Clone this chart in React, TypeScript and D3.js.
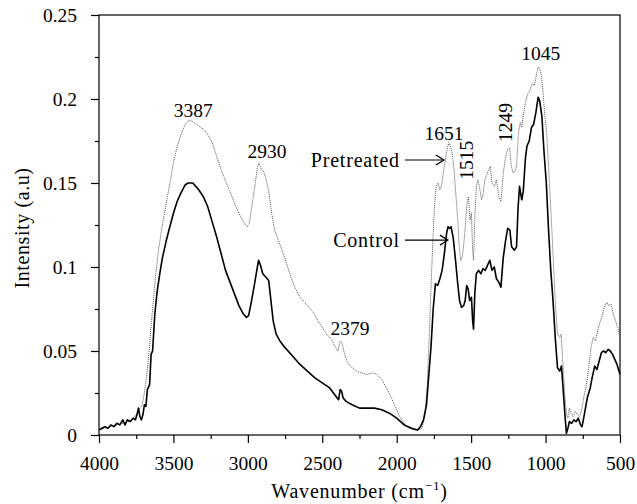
import * as d3 from "d3";
import React, { useRef, useEffect } from "react";

// FTIR spectra, wavenumber (cm-1) vs intensity (a.u)
const controlWn = [4000,3980,3960,3940,3920,3900,3880,3860,3840,3825,3810,3790,3770,3755,3745,3735,3725,3715,3705,3695,3685,3675,3660,3650,3640,3625,3610,3590,3575,3550,3530,3500,3475,3450,3420,3400,3370,3350,3330,3300,3270,3240,3210,3180,3150,3120,3090,3060,3030,3010,2995,2975,2955,2940,2928,2915,2900,2880,2860,2845,2830,2810,2785,2750,2700,2650,2600,2550,2500,2450,2400,2390,2380,2370,2360,2340,2300,2250,2200,2150,2100,2050,2000,1950,1900,1860,1840,1820,1800,1785,1770,1755,1740,1725,1710,1695,1680,1665,1655,1645,1635,1620,1605,1590,1578,1565,1550,1540,1530,1520,1510,1498,1490,1484,1475,1465,1450,1435,1420,1405,1390,1375,1360,1345,1330,1315,1300,1285,1270,1255,1240,1228,1210,1195,1185,1175,1160,1150,1135,1125,1110,1095,1080,1065,1050,1040,1025,1010,995,980,965,950,935,920,905,893,880,870,860,850,840,825,810,795,780,765,755,740,720,700,685,670,655,640,625,610,595,580,565,550,535,520,500];
const controlVal = [0.003,0.004,0.005,0.004,0.006,0.005,0.007,0.006,0.009,0.006,0.009,0.008,0.010,0.009,0.012,0.016,0.011,0.009,0.012,0.018,0.017,0.027,0.030,0.048,0.050,0.072,0.085,0.097,0.105,0.115,0.122,0.132,0.139,0.144,0.149,0.150,0.150,0.148,0.146,0.142,0.136,0.127,0.118,0.108,0.098,0.091,0.084,0.077,0.072,0.070,0.071,0.080,0.090,0.098,0.104,0.101,0.096,0.094,0.092,0.080,0.068,0.060,0.056,0.052,0.047,0.042,0.038,0.034,0.031,0.028,0.022,0.021,0.027,0.026,0.022,0.020,0.018,0.016,0.016,0.016,0.015,0.013,0.010,0.006,0.004,0.003,0.005,0.009,0.018,0.035,0.052,0.075,0.090,0.089,0.093,0.098,0.108,0.120,0.124,0.123,0.124,0.117,0.104,0.090,0.080,0.076,0.077,0.080,0.089,0.087,0.080,0.082,0.068,0.063,0.085,0.096,0.098,0.096,0.099,0.098,0.101,0.104,0.098,0.100,0.093,0.091,0.088,0.105,0.115,0.123,0.122,0.112,0.110,0.112,0.135,0.148,0.140,0.145,0.165,0.172,0.175,0.183,0.185,0.192,0.201,0.199,0.190,0.168,0.150,0.122,0.098,0.080,0.058,0.040,0.038,0.041,0.025,0.012,0.001,0.004,0.008,0.007,0.009,0.008,0.010,0.006,0.005,0.012,0.022,0.028,0.035,0.041,0.039,0.044,0.049,0.050,0.049,0.051,0.050,0.048,0.045,0.042,0.036];

const pretreatedWn = [4000,3960,3920,3880,3840,3800,3770,3750,3730,3710,3695,3680,3665,3650,3635,3620,3600,3580,3560,3540,3520,3500,3480,3460,3440,3420,3400,3380,3360,3330,3300,3270,3240,3210,3180,3150,3120,3090,3060,3030,3005,2990,2970,2950,2935,2925,2910,2895,2880,2860,2840,2820,2800,2770,2740,2710,2680,2650,2620,2590,2560,2530,2500,2470,2440,2410,2395,2380,2368,2350,2330,2300,2270,2240,2200,2160,2130,2100,2070,2040,2010,1980,1950,1920,1880,1850,1830,1810,1795,1780,1768,1755,1745,1735,1722,1710,1700,1688,1675,1662,1650,1640,1628,1615,1600,1590,1580,1570,1560,1548,1538,1528,1518,1508,1498,1490,1484,1475,1465,1455,1445,1430,1420,1408,1395,1382,1372,1360,1345,1330,1315,1300,1285,1270,1255,1242,1230,1218,1205,1195,1182,1170,1160,1150,1135,1120,1105,1090,1075,1062,1050,1040,1030,1018,1005,993,980,965,950,935,920,905,895,885,872,860,850,840,830,815,800,785,770,755,740,725,710,695,680,665,650,635,620,605,590,575,560,545,530,515,500];
const pretreatedVal = [0.003,0.004,0.005,0.006,0.007,0.008,0.010,0.012,0.015,0.018,0.025,0.035,0.048,0.065,0.080,0.095,0.110,0.122,0.132,0.142,0.152,0.162,0.170,0.176,0.181,0.185,0.187,0.187,0.186,0.184,0.182,0.179,0.174,0.166,0.158,0.151,0.145,0.138,0.132,0.127,0.124,0.126,0.138,0.150,0.160,0.162,0.158,0.157,0.153,0.145,0.132,0.122,0.117,0.110,0.102,0.094,0.087,0.082,0.079,0.076,0.073,0.068,0.064,0.060,0.057,0.052,0.050,0.056,0.055,0.048,0.043,0.040,0.038,0.037,0.036,0.037,0.036,0.033,0.028,0.023,0.017,0.011,0.007,0.004,0.003,0.003,0.004,0.012,0.030,0.062,0.092,0.120,0.138,0.148,0.150,0.146,0.148,0.155,0.163,0.170,0.174,0.172,0.168,0.158,0.140,0.128,0.112,0.104,0.106,0.115,0.125,0.138,0.142,0.128,0.132,0.110,0.104,0.130,0.148,0.152,0.148,0.140,0.143,0.152,0.155,0.158,0.160,0.150,0.148,0.152,0.142,0.139,0.155,0.165,0.170,0.171,0.160,0.156,0.157,0.160,0.180,0.186,0.183,0.190,0.198,0.203,0.205,0.209,0.208,0.214,0.219,0.218,0.215,0.205,0.190,0.180,0.160,0.135,0.108,0.080,0.060,0.058,0.060,0.045,0.025,0.013,0.010,0.016,0.013,0.011,0.014,0.012,0.011,0.016,0.024,0.030,0.040,0.052,0.058,0.056,0.062,0.067,0.071,0.076,0.079,0.077,0.078,0.072,0.068,0.064,0.058];

const xTicks = [4000, 3500, 3000, 2500, 2000, 1500, 1000, 500];
const yTicks = [0, 0.05, 0.1, 0.15, 0.2, 0.25];

// peak annotations: text, anchor wavenumber, anchor value, rotated
const peakLabels: [string, number, number, boolean][] = [
  ["3387", 3367, 0.189, false],
  ["2930", 2872, 0.165, false],
  ["2379", 2314, 0.0595, false],
  ["1651", 1683, 0.1756, false],
  ["1515", 1488, 0.152, true],
  ["1249", 1226, 0.1744, true],
  ["1045", 1032, 0.223, false],
];

// series labels: text, arrow tip wavenumber, value, arrow tail wavenumber
const seriesLabels: [string, number, number, number][] = [
  ["Pretreated", 1683, 0.1637, 1945],
  ["Control", 1656, 0.116, 1945],
];

const W = 637, H = 504;
const margin = { top: 15, right: 17, bottom: 69, left: 99 };
const FONT = "'Liberation Serif', 'Times New Roman', serif";

const App = () => {
  const ref = useRef<SVGSVGElement>(null);

  useEffect(() => {
    document.body.style.margin = "0";
    document.body.style.overflow = "hidden";

    const width = W - margin.left - margin.right;
    const height = H - margin.top - margin.bottom;
    const root = d3.select(ref.current);
    root.selectAll("*").remove();
    const svg = root.append("g").attr("transform", `translate(${margin.left},${margin.top})`);

    const x = d3.scaleLinear().domain([4000, 500]).range([0, width]);
    const y = d3.scaleLinear().domain([0, 0.25]).range([height, 0]);

    // frame
    svg.append("rect").attr("width", width).attr("height", height)
      .attr("fill", "none").attr("stroke", "#000").attr("stroke-width", 1.2);

    const minorX = xTicks.slice(0, -1).map(v => v - 250);
    const minorY = yTicks.slice(0, -1).map(v => v + 0.025);

    const styleAxis = (g: any) => {
      g.select(".domain").remove();
      g.selectAll("line").attr("stroke", "#000").attr("stroke-width", 1.2);
      g.selectAll("text").attr("font-family", FONT).attr("font-size", 19.5).attr("fill", "#000");
    };

    svg.append("g").attr("transform", `translate(0,${height})`)
      .call(d3.axisBottom(x).tickValues(xTicks).tickSize(8).tickPadding(13).tickFormat(d3.format("d")))
      .call(styleAxis);
    svg.append("g").attr("transform", `translate(0,${height})`)
      .call(d3.axisBottom(x).tickValues(minorX).tickSize(4).tickFormat(() => ""))
      .call(styleAxis);
    svg.append("g")
      .call(d3.axisLeft(y).tickValues(yTicks).tickSize(8).tickPadding(14).tickFormat(d => String(+d)))
      .call(styleAxis);
    svg.append("g")
      .call(d3.axisLeft(y).tickValues(minorY).tickSize(4).tickFormat(() => ""))
      .call(styleAxis);

    const line = d3.line<[number, number]>().x(d => x(d[0])).y(d => y(d[1]));

    svg.append("path")
      .datum(d3.zip(pretreatedWn, pretreatedVal) as [number, number][])
      .attr("fill", "none").attr("stroke", "#555").attr("stroke-width", 1)
      .attr("stroke-dasharray", "1,1").attr("d", line);

    svg.append("path")
      .datum(d3.zip(controlWn, controlVal) as [number, number][])
      .attr("fill", "none").attr("stroke", "#000").attr("stroke-width", 1.6)
      .attr("stroke-linejoin", "round").attr("d", line);

    // peak labels
    peakLabels.forEach(([t, wn, v, rot]) => {
      const tx = svg.append("text")
        .attr("font-family", FONT).attr("font-size", 19.5).attr("fill", "#000")
        .text(t);
      if (rot) {
        tx.attr("transform", `translate(${x(wn)},${y(v)}) rotate(-90)`).attr("text-anchor", "start");
      } else {
        tx.attr("x", x(wn)).attr("y", y(v)).attr("text-anchor", "middle");
      }
    });

    // series labels with arrows
    seriesLabels.forEach(([t, wn, v, tail]) => {
      const ax = x(wn), ay = y(v), x0 = x(tail);
      svg.append("text").attr("x", x0 - 5).attr("y", ay + 7)
        .attr("text-anchor", "end").attr("font-family", FONT).attr("font-size", 20)
        .attr("letter-spacing", 0.8)
        .text(t);
      svg.append("line").attr("x1", x0).attr("x2", ax).attr("y1", ay).attr("y2", ay)
        .attr("stroke", "#000").attr("stroke-width", 1.2);
      svg.append("path").attr("d", `M${ax - 8},${ay - 5}L${ax},${ay}L${ax - 8},${ay + 5}`)
        .attr("fill", "none").attr("stroke", "#000").attr("stroke-width", 1.2);
    });

    // axis titles
    const xt = svg.append("text").attr("x", width / 2).attr("y", height + 63)
      .attr("text-anchor", "middle").attr("font-family", FONT).attr("font-size", 20)
      .attr("letter-spacing", 0.8);
    xt.append("tspan").text("Wavenumber (cm");
    xt.append("tspan").attr("font-size", 13).attr("dy", -8).text("\u22121");
    xt.append("tspan").attr("dy", 8).text(")");

    svg.append("text")
      .attr("transform", `translate(${-70},${height / 2 + 3}) rotate(-90)`)
      .attr("text-anchor", "middle").attr("font-family", FONT).attr("font-size", 20)
      .attr("letter-spacing", 0.6)
      .text("Intensity (a.u)");
  }, []);

  return <svg ref={ref} width={W} height={H} style={{ display: "block" }} />;
};

export default App;
